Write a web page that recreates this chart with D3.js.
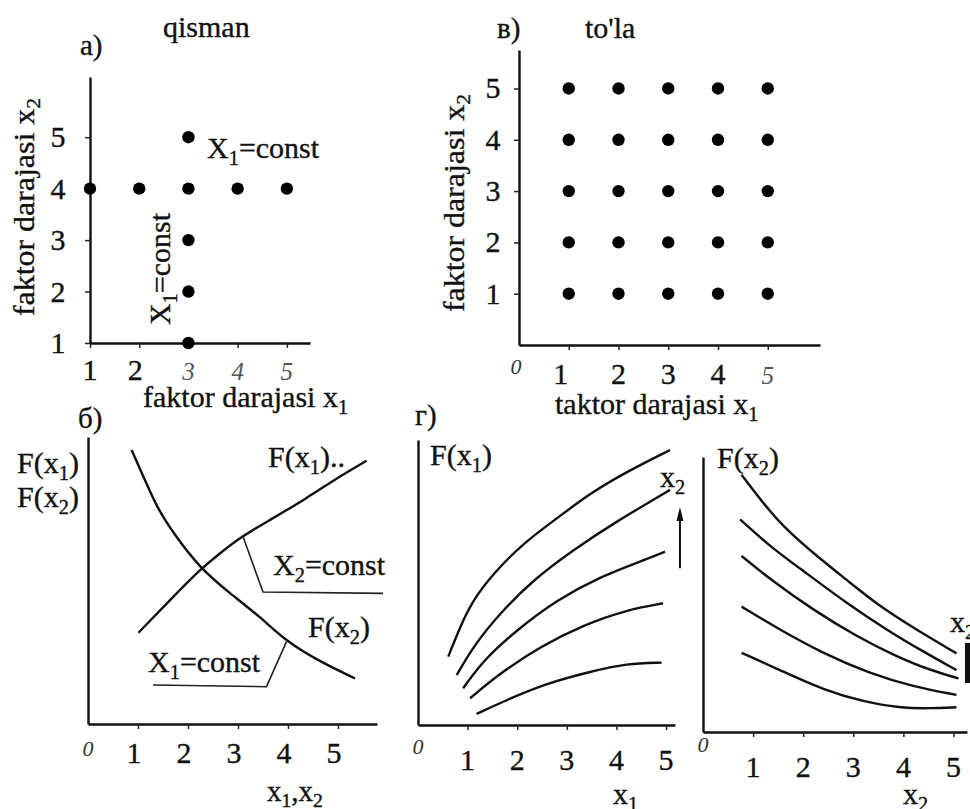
<!DOCTYPE html>
<html>
<head>
<meta charset="utf-8">
<script src="https://cdn.jsdelivr.net/npm/d3@7"></script>
<style>
  body { margin: 0; background: #fff; }
  svg { display: block; }
  text { font-family: "Liberation Serif", "DejaVu Serif", serif; }
</style>
</head>
<body>
<script>
var width = 970;
var height = 809;
var serif = "'Liberation Serif', 'DejaVu Serif', serif";

// factor levels
var levels = [1, 2, 3, 4, 5];

// a) qisman: one factor varied at a time
var rowX1 = [1, 2, 3, 4, 5];   // x2 held at 4
var rowX2 = 4;
var colX2 = [1, 2, 3, 5];      // x1 held at 3
var colX1 = 3;

// в) to'la: full grid
var gridX1 = [1, 2, 3, 4, 5];
var gridX2 = [1, 2, 3, 4, 5];

// б) response curves (x, F)
var fx1Curve = [[1.01, 3.18], [1.64, 4.32], [2.27, 5.43], [2.64, 5.95], [3.07, 6.53],
                [3.64, 7.11], [4.37, 7.86], [4.97, 8.56], [5.57, 9.17]];
var fx2Curve = [[0.87, 9.55], [1.11, 8.62], [1.37, 7.57], [1.71, 6.64], [2.24, 5.43],
                [2.84, 4.55], [3.44, 3.74], [3.97, 2.87], [4.64, 2.17], [5.34, 1.59]];
var leaderX2 = [[3.1, 6.53], [3.5, 4.6], [5.9, 4.55]];
var leaderX1 = [[3.97, 2.87], [3.57, 1.3], [1.3, 1.36]];

// г) families of curves, one per level of the other factor
var fx1Family = [
  [[0.61, 2.40], [0.85, 3.45], [1.11, 4.39], [1.52, 5.32], [2.12, 6.38], [2.80, 7.25], [3.47, 8.13], [4.21, 8.89], [5.08, 9.65]],
  [[0.78, 1.75], [1.11, 2.75], [1.65, 3.92], [2.32, 5.09], [3.13, 6.14], [3.94, 7.08], [5.08, 8.25]],
  [[0.91, 1.29], [1.32, 2.28], [1.99, 3.33], [2.80, 4.39], [3.67, 5.20], [4.47, 5.73], [4.98, 6.08]],
  [[1.05, 0.94], [1.65, 1.81], [2.46, 2.75], [3.33, 3.51], [4.21, 4.04], [4.94, 4.27]],
  [[1.18, 0.39], [1.79, 0.88], [2.59, 1.46], [3.47, 1.87], [4.21, 2.16], [4.91, 2.19]]
];
var fx2Family = [
  [[0.77, 9.35], [1.20, 8.32], [1.60, 7.47], [2.20, 6.50], [2.87, 5.53], [3.53, 4.56], [4.27, 3.71], [5.06, 2.86]],
  [[0.74, 7.73], [1.34, 6.74], [2.07, 5.77], [2.87, 4.68], [3.67, 3.71], [4.40, 2.92], [5.06, 2.25]],
  [[0.77, 6.40], [1.40, 5.47], [2.20, 4.44], [3.07, 3.47], [3.87, 2.74], [4.53, 2.25], [5.10, 1.95]],
  [[0.77, 4.56], [1.54, 3.71], [2.40, 2.86], [3.33, 2.13], [4.20, 1.65], [5.06, 1.35]],
  [[0.77, 2.88], [1.54, 2.25], [2.40, 1.53], [3.20, 1.10], [4.00, 0.86], [4.53, 0.86], [5.06, 0.90]]
];

var svg = d3.select('body').append('svg')
  .attr('width', width)
  .attr('height', height)
  .style('background', '#fff');

// text with "_1" style subscripts
function label(x, y, str, size, opts) {
  opts = opts || {};
  var t = svg.append('text')
    .attr('x', x).attr('y', y)
    .attr('font-family', serif)
    .attr('font-size', size)
    .attr('fill', opts.fill || '#111')
    .attr('stroke', opts.fill || '#111')
    .attr('stroke-width', opts.italic ? 0 : 0.35)
    .attr('text-anchor', opts.anchor || 'start');
  if (opts.italic) t.attr('font-style', 'italic');
  if (opts.transform) t.attr('transform', opts.transform);
  var shift = size * 0.22;
  var wasSub = false;
  str.split(/(_\w)/).forEach(function(p) {
    if (!p) return;
    if (p[0] === '_') {
      t.append('tspan').attr('font-size', size * 0.68).attr('dy', shift).text(p.slice(1));
      wasSub = true;
    } else {
      var s = t.append('tspan').text(p);
      if (wasSub) s.attr('dy', -shift);
      wasSub = false;
    }
  });
  return t;
}

function axes(xs, ys, xticks, yticks) {
  var gx = svg.append('g')
    .attr('transform', 'translate(0,' + ys.range()[0] + ')')
    .call(d3.axisBottom(xs).tickValues(xticks).tickSize(5).tickSizeOuter(0).tickFormat(''));
  var gy = svg.append('g')
    .attr('transform', 'translate(' + xs.range()[0] + ',0)')
    .call(d3.axisLeft(ys).tickValues(yticks).tickSize(5).tickSizeOuter(0).tickFormat(''));
  [gx, gy].forEach(function(g) {
    g.select('.domain').attr('stroke', '#111').attr('stroke-width', 2.4);
    g.selectAll('.tick line').attr('stroke', '#222').attr('stroke-width', 1.5);
  });
}

function curveLine(xs, ys) {
  return d3.line().curve(d3.curveBasis)
    .x(function(d) { return xs(d[0]); })
    .y(function(d) { return ys(d[1]); });
}

// ---------- a) qisman ----------
var ax = d3.scaleLinear().domain([1, 5.47]).range([90, 310]);
var ay = d3.scaleLinear().domain([1, 6.17]).range([343, 77]);
axes(ax, ay, levels, levels);

var aPts = rowX1.map(function(v) { return [v, rowX2]; })
  .concat(colX2.map(function(v) { return [colX1, v]; }));
svg.selectAll('circle.a').data(aPts).enter().append('circle')
  .attr('class', 'a')
  .attr('cx', function(d) { return ax(d[0]); })
  .attr('cy', function(d) { return ay(d[1]); })
  .attr('r', 6.2).attr('fill', '#000');

levels.forEach(function(v) {
  label(58, ay(v) + 10, String(v), 30, {anchor: 'middle'});
  var it = v >= 3;
  label(ax(v) + (v === 2 ? -4 : 0), 380, String(v), it ? 25 : 30,
        {anchor: 'middle', italic: it, fill: it ? '#555' : '#111'});
});
label(80, 55, 'a)', 29);
label(163, 37, 'qisman', 30);
label(207, 158, 'X_1=const', 30);
label(0, 0, 'X_1=const', 30, {anchor: 'middle', transform: 'translate(170,269) rotate(-90)'});
label(143, 407, 'faktor darajasi x_1', 30);
label(0, 0, 'faktor darajasi x_2', 29, {anchor: 'middle', transform: 'translate(34,207) rotate(-90) scale(1.1,1)'});

// ---------- в) to'la ----------
var bx = d3.scaleLinear().domain([0, 6.05]).range([519, 820]);
var by = d3.scaleLinear().domain([0, 5.75]).range([345, 50]);
axes(bx, by, levels, levels);

var grid = [];
gridX2.forEach(function(y) { gridX1.forEach(function(x) { grid.push([x, y]); }); });
svg.selectAll('circle.b').data(grid).enter().append('circle')
  .attr('class', 'b')
  .attr('cx', function(d) { return bx(d[0]); })
  .attr('cy', function(d) { return by(d[1]); })
  .attr('r', 6.2).attr('fill', '#000');

levels.forEach(function(v) {
  label(493, by(v) + 10, String(v), 30, {anchor: 'middle'});
  label(bx(v) + (v === 1 ? -8 : 0), 384, String(v), v === 5 ? 25 : 30,
        {anchor: 'middle', italic: v === 5, fill: v === 5 ? '#555' : '#111'});
});
label(bx(0) - 3, 374, '0', 22, {anchor: 'middle', italic: true, fill: '#333'});
label(497, 38, 'в)', 29);
label(585, 38, "to'la", 30);
label(555, 414, 'taktor darajasi x_1', 30);
label(0, 0, 'faktor darajasi x_2', 29, {anchor: 'middle', transform: 'translate(464,203) rotate(-90) scale(1.1,1)'});

// ---------- б) ----------
var cx = d3.scaleLinear().domain([0, 5.78]).range([88, 377]);
var cy = d3.scaleLinear().domain([0, 10]).range([724, 437]);
axes(cx, cy, levels, []);

svg.selectAll('path.c').data([fx1Curve, fx2Curve]).enter().append('path')
  .attr('class', 'c').attr('d', curveLine(cx, cy))
  .attr('fill', 'none').attr('stroke', '#111').attr('stroke-width', 2.4);

var straight = d3.line().x(function(d) { return cx(d[0]); }).y(function(d) { return cy(d[1]); });
svg.selectAll('path.lead').data([leaderX2, leaderX1]).enter().append('path')
  .attr('class', 'lead').attr('d', straight)
  .attr('fill', 'none').attr('stroke', '#222').attr('stroke-width', 1.6);

label(cx(0), 756, '0', 22, {anchor: 'middle', italic: true, fill: '#333'});
levels.forEach(function(v) {
  label(cx(v) - 4, 763, String(v), 30, {anchor: 'middle'});
});
label(78, 428, 'б)', 29);
label(17, 473, 'F(x_1)', 30);
label(17, 507, 'F(x_2)', 30);
label(268, 467, 'F(x_1)..', 30);
label(273, 575, 'X_2=const', 30);
label(308, 637, 'F(x_2)', 30);
label(148, 672, 'X_1=const', 30);
label(267, 801, 'x_1,x_2', 29);

// ---------- г) left ----------
var dx = d3.scaleLinear().domain([0, 5.18]).range([418, 675]);
var dy = d3.scaleLinear().domain([0, 10]).range([725, 440]);
axes(dx, dy, levels, []);

svg.selectAll('path.d').data(fx1Family).enter().append('path')
  .attr('class', 'd').attr('d', curveLine(dx, dy))
  .attr('fill', 'none').attr('stroke', '#111').attr('stroke-width', 2.4);

// arrow: x2 grows upward
svg.append('line')
  .attr('x1', dx(5.28)).attr('x2', dx(5.28))
  .attr('y1', dy(5.5)).attr('y2', dy(7.2))
  .attr('stroke', '#111').attr('stroke-width', 2);
svg.append('path')
  .attr('d', 'M' + dx(5.28) + ',' + dy(7.65) + 'l-3.5,14h7z')
  .attr('fill', '#111');

label(dx(0), 754, '0', 22, {anchor: 'middle', italic: true, fill: '#333'});
levels.forEach(function(v) {
  label(dx(v), 770, String(v), 30, {anchor: 'middle'});
});
label(415, 425, 'г)', 29);
label(430, 465, 'F(x_1)', 30);
label(660, 487, 'x_2', 30);
label(613, 804, 'x_1', 30);

// ---------- г) right ----------
var ex = d3.scaleLinear().domain([0, 5.27]).range([703, 967]);
var ey = d3.scaleLinear().domain([0, 10]).range([732, 457]);
axes(ex, ey, levels, []);

svg.selectAll('path.e').data(fx2Family).enter().append('path')
  .attr('class', 'e').attr('d', curveLine(ex, ey))
  .attr('fill', 'none').attr('stroke', '#111').attr('stroke-width', 2.4);

svg.append('rect')
  .attr('x', ex(5.23)).attr('y', ey(3.24))
  .attr('width', 8).attr('height', ey(1.78) - ey(3.24))
  .attr('fill', '#111');

label(ex(0), 752, '0', 22, {anchor: 'middle', italic: true, fill: '#333'});
levels.forEach(function(v) {
  label(ex(v), 777, String(v), 30, {anchor: 'middle'});
});
label(717, 468, 'F(x_2)', 30);
label(950, 632, 'x_2', 30);
label(903, 804, 'x_2', 30);
</script>
</body>
</html>
